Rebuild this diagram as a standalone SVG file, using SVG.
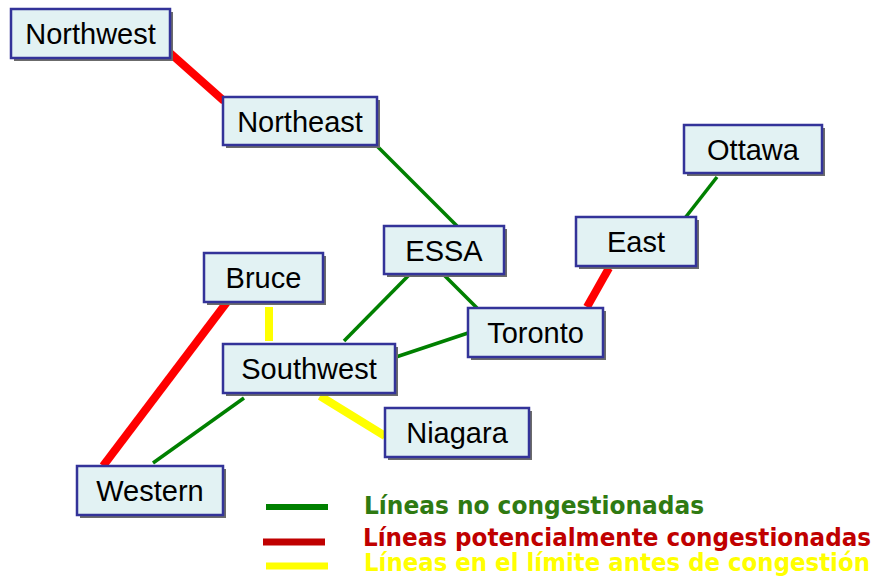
<svg xmlns="http://www.w3.org/2000/svg" width="880" height="580" viewBox="0 0 880 580">
<style>
.shadow{fill:#6b6b6b}
.box{fill:#e2f2f3;stroke:#333399;stroke-width:2.5}
.lbl{font-family:"Liberation Sans",Arial,sans-serif;font-size:29px;fill:#000;text-anchor:middle}
.g{stroke:#008000;stroke-width:3.5;fill:none}
.r{stroke:#ff0000;stroke-width:8;fill:none}
.y{stroke:#ffff00;stroke-width:8;fill:none}
.leg{font-family:"DejaVu Sans",Verdana,sans-serif;font-size:24px;font-weight:bold}
</style>
<rect width="880" height="580" fill="#ffffff"/>
<g id="connectors">
<line class="r" x1="170" y1="53" x2="224" y2="101"/>
<line class="g" x1="377" y1="146" x2="457" y2="226"/>
<line class="g" x1="409" y1="275" x2="344" y2="341"/>
<line class="g" x1="444" y1="275" x2="477" y2="308"/>
<line class="g" x1="396" y1="357" x2="468" y2="333"/>
<line class="r" x1="587" y1="307" x2="609" y2="268"/>
<line class="g" x1="685" y1="218" x2="717" y2="177"/>
<line class="y" x1="269" y1="307" x2="269" y2="341"/>
<line class="r" x1="227" y1="302" x2="103" y2="466"/>
<line class="g" x1="244" y1="398" x2="153" y2="463"/>
<line class="y" x1="320" y1="396" x2="385" y2="436"/>
</g>
<g id="Northwest"><rect class="shadow" x="14" y="12" width="159" height="49"/><rect class="box" x="11" y="9" width="159" height="49"/><text class="lbl" x="90.5" y="43.5">Northwest</text></g>
<g id="Northeast"><rect class="shadow" x="226" y="100" width="154" height="48"/><rect class="box" x="223" y="97" width="154" height="48"/><text class="lbl" x="300" y="131.5">Northeast</text></g>
<g id="ESSA"><rect class="shadow" x="387" y="229" width="120" height="48"/><rect class="box" x="384" y="226" width="120" height="48"/><text class="lbl" x="444" y="260.5">ESSA</text></g>
<g id="Toronto"><rect class="shadow" x="471" y="311" width="135" height="49"/><rect class="box" x="468" y="308" width="135" height="49"/><text class="lbl" x="535.5" y="342.5">Toronto</text></g>
<g id="East"><rect class="shadow" x="579" y="220" width="120" height="49"/><rect class="box" x="576" y="217" width="120" height="49"/><text class="lbl" x="636" y="251.5">East</text></g>
<g id="Ottawa"><rect class="shadow" x="687" y="128" width="138" height="48"/><rect class="box" x="684" y="125" width="138" height="48"/><text class="lbl" x="753" y="159.5">Ottawa</text></g>
<g id="Bruce"><rect class="shadow" x="207" y="256" width="119" height="49"/><rect class="box" x="204" y="253" width="119" height="49"/><text class="lbl" x="263.5" y="287.5">Bruce</text></g>
<g id="Southwest"><rect class="shadow" x="226" y="347" width="172" height="49"/><rect class="box" x="223" y="344" width="172" height="49"/><text class="lbl" x="309" y="378.5">Southwest</text></g>
<g id="Niagara"><rect class="shadow" x="388" y="411" width="144" height="49"/><rect class="box" x="385" y="408" width="144" height="49"/><text class="lbl" x="457" y="442.5">Niagara</text></g>
<g id="Western"><rect class="shadow" x="80" y="469" width="146" height="49"/><rect class="box" x="77" y="466" width="146" height="49"/><text class="lbl" x="150" y="500.5">Western</text></g>
<g id="legend">
<line x1="266" y1="507" x2="328" y2="507" stroke="#008000" stroke-width="6"/>
<line x1="263" y1="542" x2="325" y2="542" stroke="#c00000" stroke-width="7"/>
<line x1="266" y1="566" x2="328" y2="566" stroke="#ffff00" stroke-width="7"/>
<text class="leg" x="364" y="514" fill="#2f7a12" textLength="340" lengthAdjust="spacingAndGlyphs">Líneas no congestionadas</text>
<text class="leg" x="363" y="546" fill="#c00000" textLength="508" lengthAdjust="spacingAndGlyphs">Líneas potencialmente congestionadas</text>
<text class="leg" x="364" y="571" fill="#ffff00" textLength="506" lengthAdjust="spacingAndGlyphs">Líneas en el límite antes de congestión</text>
</g>
</svg>
